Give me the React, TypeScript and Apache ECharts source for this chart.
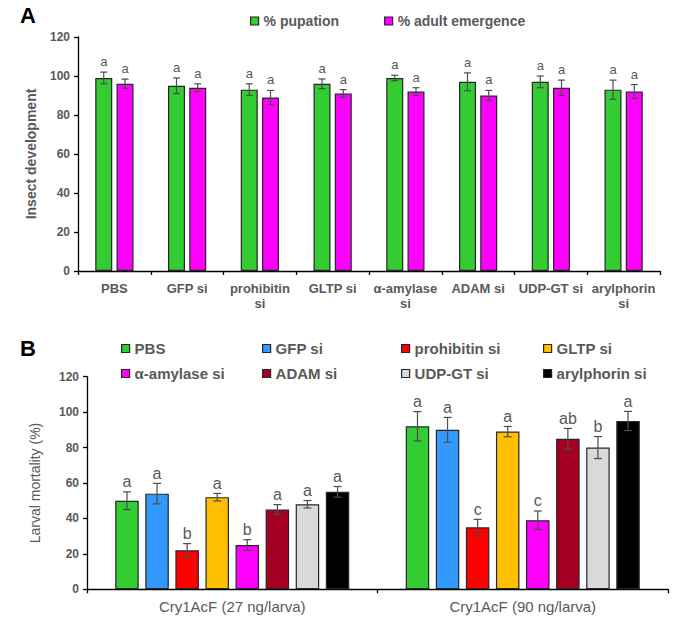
import React, { useEffect, useRef } from 'react';
import * as echarts from 'echarts';

// ---- Panel A data ----
const categoriesA = ['PBS', 'GFP si', 'prohibitin\nsi', 'GLTP si', 'α-amylase\nsi', 'ADAM si', 'UDP-GT si', 'arylphorin\nsi'];
const seriesNamesA = ['% pupation', '% adult emergence'];
const pupation = [99, 95, 93, 96, 99, 97, 97, 93];
const pupationErr = [3, 4, 3, 2.5, 1.4, 4.6, 3, 4.9];
const pupationLetters = ['a', 'a', 'a', 'a', 'a', 'a', 'a', 'a'];
const emergence = [96, 94, 89, 91, 92, 90, 94, 92];
const emergenceErr = [2.4, 2, 3.6, 2, 2, 2.6, 3.9, 3.6];
const emergenceLetters = ['a', 'a', 'a', 'a', 'a', 'a', 'a', 'a'];
const yTicksA = [0, 20, 40, 60, 80, 100, 120];

// ---- Panel B data ----
const doses = ['Cry1AcF (27 ng/larva)', 'Cry1AcF (90 ng/larva)'];
const treatments = ['PBS', 'GFP si', 'prohibitin si', 'GLTP si', 'α-amylase si', 'ADAM si', 'UDP-GT si', 'arylphorin si'];
const mortality27 = [50, 54, 22, 52, 25, 45, 48, 55];
const err27 = [5, 5.8, 3.8, 2.1, 3, 2.8, 2.1, 3];
const letters27 = ['a', 'a', 'b', 'a', 'b', 'a', 'a', 'a'];
const mortality90 = [92, 90, 35, 89, 39, 85, 80, 95];
const err90 = [8.3, 7, 4.5, 2.9, 5.2, 5.8, 6.2, 5.4];
const letters90 = ['a', 'a', 'c', 'a', 'c', 'ab', 'b', 'a'];
const yTicksB = [0, 20, 40, 60, 80, 100, 120];

const colorsA = ['#33CC33', '#FF00FF'];
const colorsB = ['#33CC33', '#3399FF', '#FF0000', '#FFC000', '#FF00FF', '#A50021', '#D9D9D9', '#000000'];

const FONT = '"Liberation Sans", Arial, sans-serif';
const GREY = '#595959';

function errSeries(
  xi: number, yi: number, points: number[][], letters: string[],
  offset: number, fontSize: number, letterGap: number, cap: number
) {
  return {
    type: 'custom',
    xAxisIndex: xi,
    yAxisIndex: yi,
    z: 10,
    silent: true,
    data: points,
    renderItem: (params: any, api: any) => {
      const c = api.value(0);
      const v = api.value(1);
      const e = api.value(2);
      const top = api.coord([c, v + e]);
      const bot = api.coord([c, v - e]);
      const x = top[0] + offset;
      const st = { stroke: '#4d4d4d', lineWidth: 1.2 };
      return {
        type: 'group',
        children: [
          { type: 'line', shape: { x1: x, y1: top[1], x2: x, y2: bot[1] }, style: st },
          { type: 'line', shape: { x1: x - cap, y1: top[1], x2: x + cap, y2: top[1] }, style: st },
          { type: 'line', shape: { x1: x - cap, y1: bot[1], x2: x + cap, y2: bot[1] }, style: st },
          {
            type: 'text', x, y: top[1] - letterGap,
            style: {
              text: letters[params.dataIndex], fill: GREY, fontSize, fontFamily: FONT,
              align: 'center', verticalAlign: 'bottom',
            },
          },
        ],
      };
    },
  };
}

export default function App() {
  const ref = useRef<HTMLDivElement>(null);
  useEffect(() => {
    document.body.style.margin = '0';
    const chart = echarts.init(ref.current!, null, { renderer: 'svg' });

    const barWA = 17;
    const gapA = 0.25;
    const pitchA = barWA * (1 + gapA);
    const barWB = 23.5;
    const gapB = 0.28;
    const pitchB = barWB * (1 + gapB);

    const axisLine = { show: true, lineStyle: { color: '#000', width: 1.3 } };
    const axisTick = { show: true, length: 4, inside: false, lineStyle: { color: '#000', width: 1.3 } };

    const series: any[] = [];
    const seriesA = [pupation, emergence];
    const errA = [pupationErr, emergenceErr];
    const lettersA = [pupationLetters, emergenceLetters];
    seriesA.forEach((vals, k) => {
      series.push({
        type: 'bar', name: seriesNamesA[k], xAxisIndex: 0, yAxisIndex: 0,
        data: vals, barWidth: barWA, barGap: gapA * 100 + '%',
        itemStyle: { color: colorsA[k], borderColor: '#262626', borderWidth: 1.2 },
      });
    });
    seriesA.forEach((vals, k) => {
      const off = (k - 0.5) * pitchA;
      series.push(errSeries(0, 0, vals.map((v, i) => [i, v, errA[k][i]]), lettersA[k], off, 13, 4, 3.5));
    });

    treatments.forEach((t, i) => {
      series.push({
        type: 'bar', name: t, xAxisIndex: 1, yAxisIndex: 1,
        data: [mortality27[i], mortality90[i]], barWidth: barWB, barGap: gapB * 100 + '%',
        itemStyle: { color: colorsB[i], borderColor: '#262626', borderWidth: 1.2 },
      });
    });
    treatments.forEach((t, i) => {
      const off = (i - 3.5) * pitchB;
      series.push(errSeries(1, 1,
        [[0, mortality27[i], err27[i]], [1, mortality90[i], err90[i]]],
        [letters27[i], letters90[i]], off, 16, 2, 4));
    });

    const legendText = { color: GREY, fontWeight: 'bold', fontFamily: FONT };
    const legendCols = [
      [treatments[0], treatments[4], 121],
      [treatments[1], treatments[5], 262],
      [treatments[2], treatments[6], 401],
      [treatments[3], treatments[7], 543],
    ];
    const legendItemStyle = { borderColor: '#262626', borderWidth: 1.2 };

    const option: any = {
      animation: false,
      textStyle: { fontFamily: FONT },
      graphic: [
        { type: 'text', left: 20, top: 4, style: { text: 'A', fontSize: 22, fontWeight: 'bold', fill: '#000', fontFamily: FONT } },
        { type: 'text', left: 20, top: 337, style: { text: 'B', fontSize: 22, fontWeight: 'bold', fill: '#000', fontFamily: FONT } },
      ],
      legend: [
        {
          data: seriesNamesA, left: 250, top: 14, padding: 0, itemWidth: 8, itemHeight: 8, itemGap: 45,
          icon: 'rect', itemStyle: legendItemStyle,
          textStyle: { ...legendText, fontSize: 14 }, selectedMode: false,
        },
        ...legendCols.map((c) => ({
          data: [c[0], c[1]], orient: 'vertical', left: c[2], top: 341, padding: 0,
          itemWidth: 8, itemHeight: 8, itemGap: 10, icon: 'rect', itemStyle: legendItemStyle,
          textStyle: { ...legendText, fontSize: 15 }, selectedMode: false,
        })),
      ],
      grid: [
        { left: 78, top: 37, right: 25, height: 234, containLabel: false },
        { left: 87, top: 376.7, right: 17, height: 212.6, containLabel: false },
      ],
      xAxis: [
        {
          type: 'category', gridIndex: 0, data: categoriesA,
          axisLine, axisTick: { ...axisTick, alignWithLabel: false, interval: 0 },
          axisLabel: { interval: 0, color: GREY, fontWeight: 'bold', fontSize: 13, lineHeight: 15, margin: 10, fontFamily: FONT },
        },
        {
          type: 'category', gridIndex: 1, data: doses,
          axisLine, axisTick: { ...axisTick, alignWithLabel: false, interval: 0 },
          axisLabel: { interval: 0, color: GREY, fontSize: 15, margin: 10, fontFamily: FONT },
        },
      ],
      yAxis: [
        {
          type: 'value', gridIndex: 0, min: yTicksA[0], max: yTicksA[yTicksA.length - 1], interval: 20,
          axisLine, axisTick, splitLine: { show: false },
          axisLabel: { color: GREY, fontWeight: 'bold', fontSize: 12, margin: 8, fontFamily: FONT },
          name: 'Insect development', nameLocation: 'middle', nameGap: 40,
          nameTextStyle: { color: GREY, fontWeight: 'bold', fontSize: 14, fontFamily: FONT },
        },
        {
          type: 'value', gridIndex: 1, min: yTicksB[0], max: yTicksB[yTicksB.length - 1], interval: 20,
          axisLine, axisTick, splitLine: { show: false },
          axisLabel: { color: GREY, fontWeight: 'bold', fontSize: 12, margin: 8, fontFamily: FONT },
          name: 'Larval mortality (%)', nameLocation: 'middle', nameGap: 45,
          nameTextStyle: { color: GREY, fontSize: 14, fontFamily: FONT },
        },
      ],
      series,
    };
    chart.setOption(option);
    return () => chart.dispose();
  }, []);
  return <div ref={ref} style={{ width: 685, height: 618 }} />;
}
